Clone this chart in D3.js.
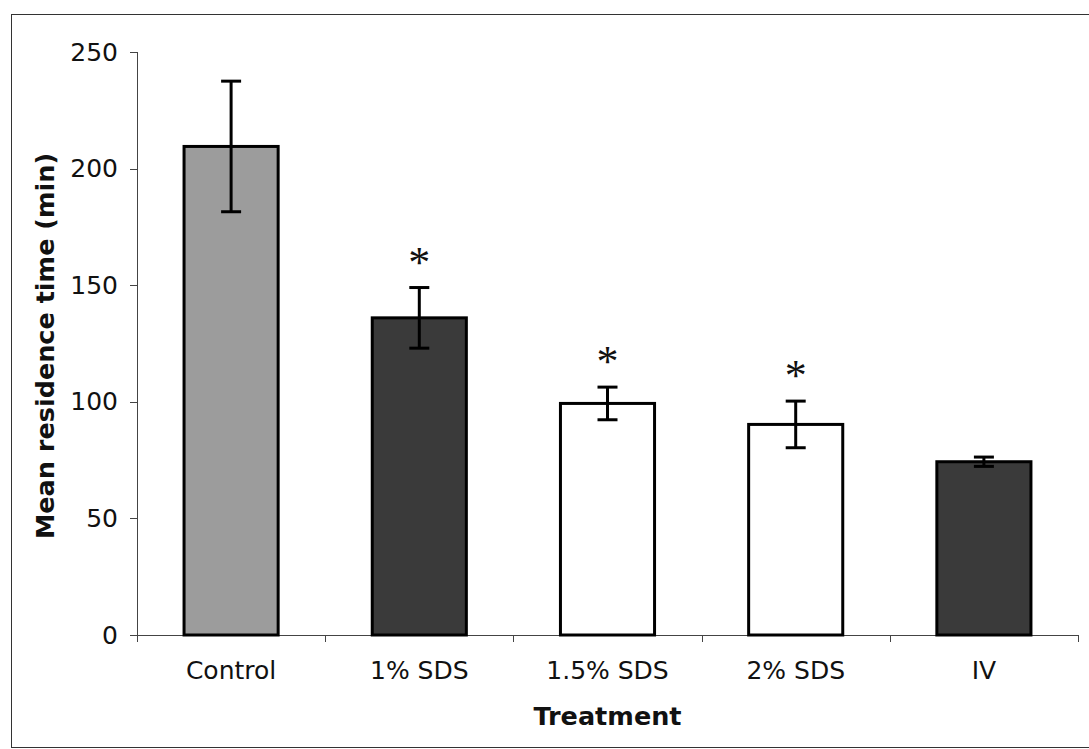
<!DOCTYPE html>
<meta charset="utf-8">
<style>

body {
  margin: 0;
  background: #fff;
}

.axis path,
.axis line {
  stroke: #444;
  shape-rendering: crispEdges;
}

.axis text {
  font: 25px "DejaVu Sans", sans-serif;
  fill: #111;
}

.title {
  font: bold 25.5px "DejaVu Sans", sans-serif;
  fill: #111;
  text-anchor: middle;
}

.star {
  font: 44px "Liberation Serif", serif;
  fill: #111;
  text-anchor: middle;
}

</style>
<svg width="1089" height="749"></svg>
<script src="https://d3js.org/d3.v7.min.js"></script>
<script>

// values
var categories = ["Control", "1% SDS", "1.5% SDS", "2% SDS", "IV"];
var means = [209.5, 136, 99.3, 90.3, 74.3];
var errors = [28, 13, 7, 10, 2];
var fills = ["#9c9c9c", "#3a3a3a", "#ffffff", "#ffffff", "#3a3a3a"];
var significant = [false, true, true, true, false];
var yTicks = [0, 50, 100, 150, 200, 250];

var svg = d3.select("svg");

var plotLeft = 137, plotRight = 1078, plotTop = 52, plotBottom = 635;

var x = d3.scaleBand()
    .domain(categories)
    .range([plotLeft, plotRight])
    .paddingInner(0.5)
    .paddingOuter(0.25);

var y = d3.scaleLinear()
    .domain([0, 250])
    .range([plotBottom, plotTop]);

var data = categories.map(function(c, i) {
  return {name: c, mean: means[i], err: errors[i], fill: fills[i], star: significant[i]};
});

// frame round the figure
svg.append("rect")
    .attr("x", 11.5)
    .attr("y", 14.5)
    .attr("width", 1100)
    .attr("height", 733)
    .attr("fill", "none")
    .attr("stroke", "#333");

// y axis
svg.append("g")
    .attr("class", "axis")
    .attr("transform", "translate(" + plotLeft + ",0)")
    .call(d3.axisLeft(y).tickValues(yTicks).tickSize(7).tickSizeOuter(0).tickPadding(12))
    .call(function(g) { g.select(".domain").attr("d", "M0.5," + plotBottom + "V" + plotTop); });

// x axis: labels at centres, ticks at the category boundaries
var xAxis = svg.append("g")
    .attr("class", "axis")
    .attr("transform", "translate(0," + plotBottom + ")")
    .call(d3.axisBottom(x).tickSize(0).tickPadding(26).tickSizeOuter(0));

var gap = x.step() - x.bandwidth();
var bounds = categories.map(function(c) { return x(c) - gap / 2; }).concat([plotRight]);

xAxis.selectAll(".bound")
    .data(bounds)
  .enter().append("line")
    .attr("class", "bound")
    .attr("x1", function(d) { return Math.round(d) + 0.5; })
    .attr("x2", function(d) { return Math.round(d) + 0.5; })
    .attr("y1", 0)
    .attr("y2", 7);

// bars
svg.append("g").selectAll("rect")
    .data(data)
  .enter().append("rect")
    .attr("x", function(d) { return x(d.name); })
    .attr("y", function(d) { return y(d.mean); })
    .attr("width", x.bandwidth())
    .attr("height", function(d) { return y(0) - y(d.mean); })
    .attr("fill", function(d) { return d.fill; })
    .attr("stroke", "#000")
    .attr("stroke-width", 3);

// error bars
var eb = svg.append("g")
    .attr("stroke", "#000")
    .attr("stroke-width", 3)
  .selectAll("g")
    .data(data)
  .enter().append("g")
    .attr("transform", function(d) { return "translate(" + (x(d.name) + x.bandwidth() / 2) + ",0)"; });

eb.append("line")
    .attr("y1", function(d) { return y(d.mean + d.err); })
    .attr("y2", function(d) { return y(d.mean - d.err); });

eb.append("line")
    .attr("x1", -10).attr("x2", 10)
    .attr("y1", function(d) { return y(d.mean + d.err); })
    .attr("y2", function(d) { return y(d.mean + d.err); });

eb.append("line")
    .attr("x1", -10).attr("x2", 10)
    .attr("y1", function(d) { return y(d.mean - d.err); })
    .attr("y2", function(d) { return y(d.mean - d.err); });

// significance marks
svg.append("g").selectAll("text")
    .data(data.filter(function(d) { return d.star; }))
  .enter().append("text")
    .attr("class", "star")
    .attr("x", function(d) { return x(d.name) + x.bandwidth() / 2; })
    .attr("y", function(d) { return y(d.mean + d.err) - 32 + 21; })
    .text("*");

// axis titles
svg.append("text")
    .attr("class", "title")
    .attr("x", (plotLeft + plotRight) / 2)
    .attr("y", 725)
    .text("Treatment");

svg.append("text")
    .attr("class", "title")
    .attr("transform", "translate(54,346) rotate(-90)")
    .text("Mean residence time (min)");

</script>
